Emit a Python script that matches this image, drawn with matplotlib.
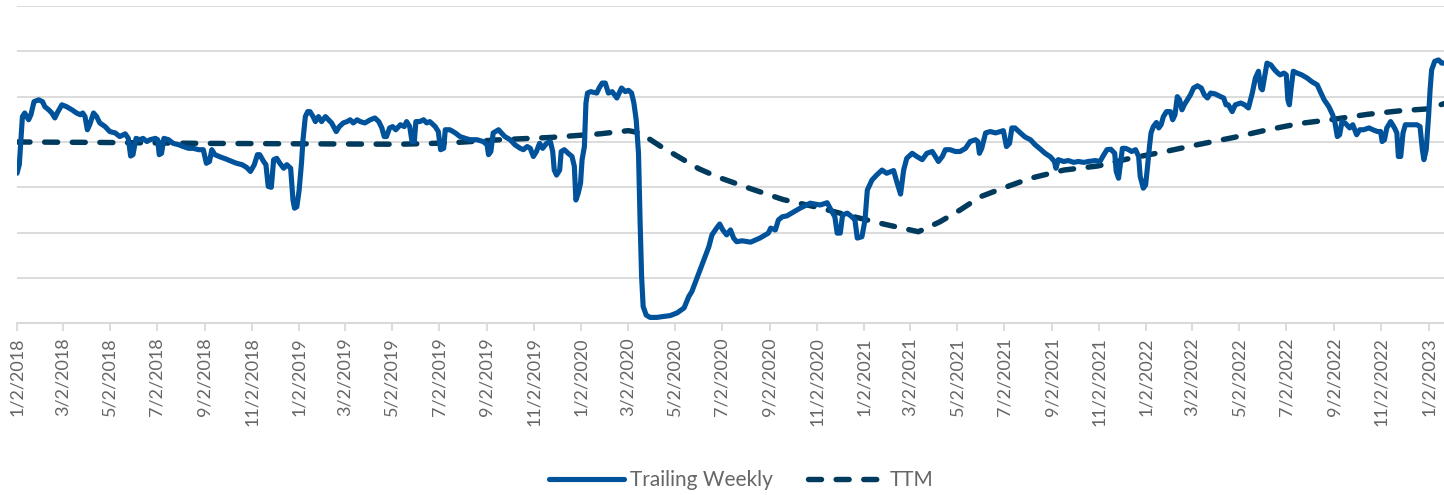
import numpy as np
import pandas as pd
import matplotlib
matplotlib.use("Agg")
import matplotlib.pyplot as plt

plt.rcParams['font.family'] = ['Lato', 'DejaVu Sans']

start_date = '2018-01-02'

# trailing weekly series: days after start_date, value
weekly_days = [0, 3, 7, 10, 15, 18, 22, 28, 33, 36, 41, 45, 49, 52, 58, 64, 71, 77, 82, 85,
               88, 91, 94, 99, 103, 107, 114, 120, 127, 133, 140, 144, 147, 150, 154, 159, 163, 168, 172, 179,
               182, 184, 187, 190, 196, 202, 209, 215, 222, 228, 235, 241, 245, 249, 252, 256, 263, 271, 278, 284,
               291, 297, 302, 307, 311, 314, 319, 322, 325, 329, 332, 336, 340, 345, 349, 354, 357, 359, 362, 365,
               368, 370, 373, 376, 379, 383, 386, 390, 394, 399, 403, 407, 413, 417, 422, 427, 431, 435, 440, 444,
               450, 457, 463, 468, 472, 475, 478, 482, 486, 490, 496, 501, 504, 508, 511, 514, 516, 521, 526, 530,
               534, 541, 545, 548, 552, 554, 560, 567, 573, 580, 586, 595, 603, 608, 610, 613, 616, 623, 625, 631,
               638, 644, 651, 655, 660, 664, 668, 672, 676, 680, 685, 690, 693, 695, 698, 702, 704, 708, 713, 718,
               721, 723, 726, 729, 731, 734, 736, 738, 742, 747, 750, 753, 757, 761, 765, 770, 773, 776, 779, 782,
               787, 791, 795, 798, 801, 804, 806, 808, 810, 814, 819, 828, 836, 845, 854, 863, 869, 873, 877, 882,
               886, 890, 895, 899, 905, 909, 913, 918, 923, 927, 931, 938, 949, 961, 972, 975, 981, 985, 990, 996,
               1005, 1013, 1026, 1039, 1048, 1053, 1058, 1061, 1065, 1068, 1074, 1080, 1084, 1087, 1093, 1097, 1100, 1106, 1112, 1119,
               1125, 1134, 1138, 1143, 1147, 1151, 1158, 1164, 1171, 1177, 1184, 1188, 1192, 1197, 1201, 1207, 1214, 1220, 1227, 1233,
               1240, 1243, 1245, 1248, 1253, 1259, 1266, 1272, 1276, 1280, 1284, 1287, 1291, 1298, 1304, 1311, 1317, 1324, 1330, 1337,
               1342, 1344, 1347, 1354, 1360, 1367, 1373, 1380, 1386, 1395, 1401, 1406, 1410, 1415, 1420, 1422, 1425, 1427, 1430, 1434,
               1438, 1442, 1447, 1451, 1453, 1457, 1460, 1462, 1465, 1467, 1470, 1474, 1477, 1480, 1483, 1487, 1492, 1495, 1498, 1501,
               1504, 1507, 1510, 1514, 1518, 1522, 1527, 1532, 1536, 1540, 1544, 1550, 1557, 1561, 1564, 1567, 1572, 1576, 1583, 1588,
               1593, 1598, 1602, 1606, 1609, 1611, 1614, 1617, 1622, 1627, 1631, 1634, 1639, 1642, 1644, 1646, 1648, 1651, 1656, 1662,
               1669, 1675, 1682, 1686, 1691, 1697, 1702, 1705, 1708, 1711, 1714, 1718, 1724, 1728, 1733, 1737, 1742, 1749, 1754, 1760,
               1764, 1766, 1769, 1772, 1777, 1782, 1785, 1787, 1790, 1793, 1796, 1802, 1811, 1815, 1818, 1820, 1823, 1826, 1828, 1830,
               1834, 1839, 1843, 1846]
weekly_vals = [33.1, 35.0, 45.6, 46.4, 44.9, 46.0, 48.9, 49.3, 48.9, 47.8, 47.1, 46.4, 45.3, 46.4, 48.2, 47.8, 47.1, 46.4, 46.0, 46.4,
               45.6, 42.7, 43.8, 46.4, 45.6, 44.2, 43.4, 42.3, 42.0, 41.2, 41.8, 40.8, 36.9, 37.2, 40.8, 40.5, 40.8, 40.1, 40.5, 40.8,
               40.5, 37.2, 37.5, 40.8, 40.5, 39.7, 39.4, 39.0, 38.6, 38.6, 38.3, 38.3, 35.3, 35.7, 38.3, 37.2, 36.7, 36.2, 35.7, 35.3,
               35.0, 34.4, 33.5, 35.0, 37.2, 37.2, 35.7, 35.0, 30.2, 30.0, 36.1, 36.4, 35.3, 34.2, 35.0, 34.2, 27.2, 25.4, 25.7, 29.4,
               35.3, 40.5, 45.6, 46.7, 46.7, 45.6, 44.5, 45.6, 44.5, 45.6, 44.9, 44.2, 42.3, 43.4, 44.2, 44.5, 44.9, 44.2, 44.9, 44.5,
               44.2, 44.9, 45.3, 44.5, 43.1, 41.2, 41.2, 43.1, 43.4, 42.7, 43.8, 43.4, 44.5, 43.4, 40.1, 40.1, 44.5, 44.5, 44.9, 44.2,
               44.5, 43.4, 42.3, 38.3, 38.6, 42.7, 42.7, 42.0, 41.2, 40.8, 40.5, 40.5, 40.1, 39.4, 37.2, 37.9, 42.0, 42.7, 42.3, 41.2,
               40.5, 39.4, 38.6, 38.3, 39.0, 38.6, 36.8, 37.9, 39.7, 38.6, 39.7, 40.1, 37.9, 33.8, 32.7, 33.8, 37.9, 38.3, 37.5, 36.8,
               34.6, 27.2, 28.7, 30.9, 36.1, 39.0, 48.6, 50.8, 51.1, 50.9, 50.8, 51.9, 53.0, 53.0, 50.8, 51.1, 50.4, 49.7, 50.8, 51.9,
               51.1, 51.4, 50.8, 48.6, 44.9, 37.5, 22.8, 10.3, 3.7, 1.8, 1.3, 1.3, 1.5, 1.7, 2.3, 3.4, 5.9, 7.0, 8.8, 11.0,
               12.9, 14.7, 16.9, 19.5, 21.0, 21.9, 20.6, 19.5, 20.6, 18.8, 18.0, 18.2, 17.9, 18.8, 19.9, 21.0, 20.6, 22.8, 23.5, 23.7,
               24.6, 25.4, 26.5, 26.1, 26.6, 25.0, 23.5, 19.9, 19.9, 23.9, 24.3, 23.5, 22.8, 18.8, 19.1, 22.8, 29.4, 31.6, 32.7, 33.8,
               33.1, 33.7, 31.3, 28.5, 33.8, 36.4, 37.5, 36.8, 36.1, 37.5, 37.9, 36.8, 35.7, 36.8, 38.3, 38.3, 37.9, 37.9, 38.6, 40.1,
               40.5, 40.1, 37.5, 38.6, 42.0, 42.3, 42.0, 42.3, 42.5, 39.0, 39.7, 43.1, 43.1, 42.0, 41.1, 40.5, 39.4, 38.4, 37.5, 36.7,
               35.7, 34.2, 36.1, 35.7, 35.9, 35.5, 35.7, 35.5, 35.7, 35.9, 35.7, 37.2, 38.3, 38.4, 37.5, 33.5, 32.0, 34.6, 38.6, 38.6,
               38.3, 37.9, 38.3, 36.8, 32.4, 29.8, 30.5, 33.8, 39.0, 42.0, 43.4, 44.3, 43.1, 43.8, 45.6, 46.7, 46.7, 44.9, 46.0, 50.0,
               49.3, 47.1, 48.2, 49.3, 50.4, 51.9, 52.4, 51.9, 50.4, 49.7, 50.8, 50.6, 50.0, 49.7, 48.2, 48.2, 46.7, 48.2, 48.6, 48.2,
               47.5, 50.8, 54.1, 55.6, 51.9, 51.5, 54.5, 57.4, 57.0, 55.9, 55.2, 54.8, 55.2, 54.8, 49.3, 48.2, 51.5, 55.6, 55.2, 54.8,
               54.1, 53.3, 52.6, 51.1, 49.3, 47.8, 46.0, 44.2, 41.2, 41.6, 44.5, 44.2, 43.1, 43.8, 41.6, 42.7, 42.7, 43.1, 42.7, 42.3,
               42.3, 40.1, 40.5, 43.1, 44.5, 43.1, 42.0, 36.8, 36.8, 42.0, 43.8, 43.8, 43.8, 43.4, 38.3, 36.1, 38.3, 45.6, 51.5, 55.9,
               57.8, 58.1, 57.4, 57.4]

# trailing twelve months series
ttm_days = [0, 107, 237, 366, 496, 560, 625, 690, 754, 791, 806, 832, 862, 882, 906, 949, 991, 1035, 1078, 1121,
            1166, 1194, 1220, 1246, 1272, 1311, 1354, 1398, 1440, 1483, 1527, 1574, 1618, 1660, 1703, 1747, 1790, 1825, 1847]
ttm_vals = [40.0, 39.9, 39.7, 39.6, 39.5, 39.8, 40.5, 41.0, 41.8, 42.5, 42.0, 39.1, 36.1, 34.1, 32.3, 29.7, 27.3, 25.6, 23.7, 21.9,
            20.2, 22.4, 25.0, 27.9, 29.6, 32.0, 33.8, 34.7, 36.4, 37.8, 39.4, 41.0, 42.7, 44.1, 45.0, 46.1, 46.9, 47.3, 48.5]

series_names = ['Trailing Weekly', 'TTM']

t0 = pd.Timestamp(start_date)
weekly_dates = t0 + pd.to_timedelta(weekly_days, unit='D')
ttm_dates = t0 + pd.to_timedelta(ttm_days, unit='D')
tick_dates = pd.date_range('2018-01-01', '2023-01-01', freq='2MS') + pd.Timedelta(days=1)
tick_labels = [f'{d.month}/{d.day}/{d.year}' for d in tick_dates]

blue = '#00529b'
navy = '#003a5d'
grid_c = '#d9d9d9'
text_c = '#666666'

fig = plt.figure(figsize=(14.44, 4.95), dpi=100)
ax = fig.add_axes([17 / 1444, 1 - 323.3 / 495, 1 - 17 / 1444, (323.3 - 6) / 495])

ax.plot(weekly_dates, weekly_vals, color=blue, lw=3.7, solid_joinstyle='round',
        solid_capstyle='round', label=series_names[0], zorder=3)
ax.plot(ttm_dates, ttm_vals, color=navy, lw=3.9, dashes=(2.4, 2.7),
        dash_capstyle='round', label=series_names[1], zorder=2)

ax.set_xlim(t0, weekly_dates[-1])
ax.set_ylim(0, 70)
ax.set_yticks(np.arange(0, 71, 10))
ax.set_yticklabels([])
ax.tick_params(axis='y', length=0)
ax.grid(axis='y', color=grid_c, lw=1.3)
ax.set_axisbelow(True)

ax.set_xticks(tick_dates)
ax.set_xticklabels(tick_labels, rotation=90, color=text_c, fontsize=13)
ax.tick_params(axis='x', length=6, width=1.3, color=grid_c, pad=4)

for s in ['top', 'right', 'left']:
    ax.spines[s].set_visible(False)
ax.spines['bottom'].set_color(grid_c)
ax.spines['bottom'].set_linewidth(1.5)

leg = fig.legend(loc='center', bbox_to_anchor=(0.513, 0.03), ncol=2, frameon=False,
                 handlelength=3.6, columnspacing=1.7, handletextpad=0.3,
                 prop={'size': 15})
for t in leg.get_texts():
    t.set_color(text_c)

fig.savefig('out.png', dpi=100)
